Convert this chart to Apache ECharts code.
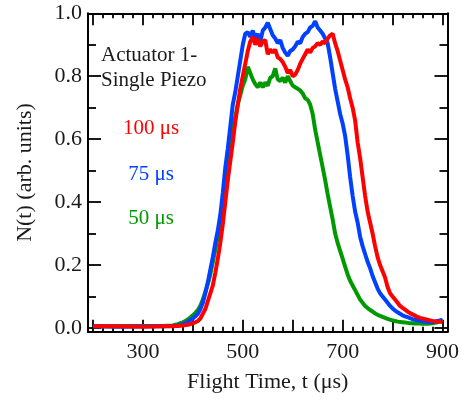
<!DOCTYPE html>
<html><head><meta charset="utf-8">
<script src="https://cdn.jsdelivr.net/npm/echarts@6/dist/echarts.min.js"></script>
<style>html,body{margin:0;padding:0;background:#fff}#c{width:462px;height:400px}</style>
</head><body><div id="c"></div>
<script>
// Flight time grid (µs)
const times = [200,250,300,340,
 360,365,370,375,380,385,390,395,
 400,405,410,415,420,425,430,435,440,445,450,455,460,465,470,475,480,485,490,495,
 500,505,510,515,520,525,530,535,540,545,550,555,560,565,570,575,580,585,590,595,
 600,605,610,615,620,625,630,635,640,645,650,655,660,665,670,675,680,685,690,695,
 700,705,710,715,720,725,730,735,740,745,750,755,760,765,770,775,780,785,790,795,
 800,805,810,815,820,825,830,835,840,845,850,855,860,865,870,875,880,885,890,895,
 900];
// N(t) for 100 µs (red)
const n100 = [0.005,0.005,0.004,0.005,
 0.005,0.006,0.006,0.007,0.008,0.009,0.010,0.012,
 0.015,0.018,0.022,0.030,0.045,0.060,0.085,0.110,0.135,0.175,0.220,0.270,0.330,0.400,0.470,0.530,0.590,0.655,0.710,0.760,
 0.800,0.840,0.880,0.910,0.925,0.900,0.920,0.895,0.910,0.915,0.870,0.885,0.875,0.885,0.860,0.855,0.845,0.830,0.810,0.820,
 0.800,0.805,0.820,0.840,0.855,0.870,0.885,0.875,0.890,0.895,0.905,0.900,0.910,0.905,0.920,0.930,0.935,0.905,0.880,0.850,
 0.820,0.790,0.765,0.730,0.700,0.660,0.590,0.540,0.480,0.420,0.370,0.335,0.300,0.260,0.225,0.200,0.180,0.160,0.130,0.110,
 0.100,0.090,0.080,0.070,0.064,0.058,0.052,0.047,0.043,0.039,0.035,0.032,0.030,0.028,0.026,0.024,0.022,0.021,0.020,0.020,
 0.019];
// N(t) for 75 µs (blue)
const n75 = [0.005,0.004,0.005,0.005,
 0.006,0.007,0.008,0.010,0.012,0.015,0.020,0.025,
 0.030,0.037,0.045,0.060,0.080,0.110,0.145,0.185,0.225,0.270,0.310,0.360,0.430,0.510,0.570,0.640,0.710,0.750,0.800,0.850,
 0.900,0.935,0.940,0.925,0.945,0.920,0.935,0.910,0.945,0.955,0.970,0.950,0.930,0.920,0.905,0.915,0.890,0.875,0.865,0.880,
 0.885,0.895,0.910,0.905,0.925,0.935,0.940,0.955,0.960,0.975,0.955,0.945,0.935,0.920,0.905,0.860,0.810,0.760,0.720,0.680,
 0.650,0.610,0.550,0.480,0.420,0.370,0.335,0.290,0.260,0.235,0.210,0.190,0.165,0.145,0.125,0.110,0.100,0.090,0.080,0.070,
 0.062,0.055,0.050,0.045,0.040,0.037,0.034,0.031,0.028,0.026,0.024,0.022,0.021,0.020,0.019,0.019,0.018,0.020,0.022,0.024,
 0.025];
// N(t) for 50 µs (green)
const n50 = [0.006,0.005,0.006,0.006,
 0.008,0.010,0.012,0.015,0.018,0.022,0.027,0.033,
 0.040,0.048,0.057,0.070,0.090,0.115,0.140,0.170,0.210,0.250,0.290,0.340,0.400,0.470,0.540,0.600,0.640,0.670,0.710,0.740,
 0.770,0.790,0.830,0.810,0.790,0.775,0.765,0.780,0.765,0.780,0.770,0.795,0.800,0.825,0.790,0.785,0.795,0.780,0.800,0.785,
 0.770,0.765,0.760,0.755,0.745,0.730,0.725,0.710,0.680,0.630,0.590,0.550,0.510,0.470,0.425,0.385,0.345,0.300,0.270,0.245,
 0.220,0.195,0.170,0.150,0.135,0.120,0.105,0.090,0.080,0.070,0.063,0.057,0.052,0.046,0.042,0.038,0.035,0.032,0.029,0.026,
 0.024,0.022,0.020,0.019,0.018,0.017,0.016,0.015,0.015,0.014,0.014,0.014,0.013,0.013,0.013,0.014,0.015,0.016,0.018,0.022,
 0.026];

const xMajorTicks = [200,300,400,500,600,700,800,900];
const xLabelTicks = [300,500,700,900];
const xMinorTicks = [220,240,260,280,320,340,360,380,420,440,460,480,520,540,560,580,620,640,660,680,720,740,760,780,820,840,860,880];
const yMajorTicks = [0,0.2,0.4,0.6,0.8,1.0];
const yMinorTicks = [0.1,0.3,0.5,0.7,0.9];

const FONT = 'Liberation Serif';
const INK = '#1a1a1a';
const X_MIN = 190, X_MAX = 910, Y_MIN = -0.012, Y_MAX = 1.0;

function xAx(pos, ticks, len, labels, line, extra) {
  return Object.assign({
    type: 'value', position: pos, min: X_MIN, max: X_MAX,
    axisLine: { show: line, onZero: false, lineStyle: { color: '#000', width: 2 } },
    axisTick: { show: true, inside: true, length: len, customValues: ticks, lineStyle: { color: '#000', width: 1.8 } },
    axisLabel: labels ? { show: true, customValues: labels, fontFamily: FONT, fontSize: 22, color: INK, margin: 10 } : { show: false },
    splitLine: { show: false }
  }, extra || {});
}
function yAx(pos, ticks, len, labels, line, extra) {
  return Object.assign({
    type: 'value', position: pos, min: Y_MIN, max: Y_MAX,
    axisLine: { show: line, onZero: false, lineStyle: { color: '#000', width: 2 } },
    axisTick: { show: true, inside: true, length: len, customValues: ticks, lineStyle: { color: '#000', width: 1.8 } },
    axisLabel: labels ? { show: true, customValues: labels, fontFamily: FONT, fontSize: 22, color: INK, margin: 6,
      formatter: v => Number(v).toFixed(1) } : { show: false },
    splitLine: { show: false }
  }, extra || {});
}

const chart = echarts.init(document.getElementById('c'), null, { renderer: 'canvas' });
chart.setOption({
  animation: false,
  backgroundColor: '#fff',
  grid: { left: 88, right: 12.7, top: 13.3, bottom: 68.3 },
  xAxis: [
    xAx('bottom', xMajorTicks, 12, xLabelTicks, true, {
      name: 'Flight Time, t (\u03bcs)', nameLocation: 'middle', nameGap: 40,
      nameTextStyle: { fontFamily: FONT, fontSize: 22, color: INK } }),
    xAx('bottom', xMinorTicks, 5, null, false),
    xAx('top', xMajorTicks, 12, null, true),
    xAx('top', xMinorTicks, 5, null, false)
  ],
  yAxis: [
    yAx('left', yMajorTicks, 13, yMajorTicks, true, {
      name: 'N(t) (arb. units)', nameLocation: 'middle', nameGap: 52,
      nameTextStyle: { fontFamily: FONT, fontSize: 22, color: INK } }),
    yAx('left', yMinorTicks, 8, null, false),
    yAx('right', yMajorTicks, 13, null, true),
    yAx('right', yMinorTicks, 8, null, false)
  ],
  series: [
    { name: '50 \u03bcs', type: 'line', showSymbol: false, symbol: 'none', data: times.map((t, i) => [t, n50[i]]),
      lineStyle: { color: '#009a00', width: 4 }, z: 2 },
    { name: '75 \u03bcs', type: 'line', showSymbol: false, symbol: 'none', data: times.map((t, i) => [t, n75[i]]),
      lineStyle: { color: '#0040ff', width: 4 }, z: 3 },
    { name: '100 \u03bcs', type: 'line', showSymbol: false, symbol: 'none', data: times.map((t, i) => [t, n100[i]]),
      lineStyle: { color: '#ff0000', width: 4 }, z: 4 }
  ],
  graphic: [
    { type: 'text', z: 10, style: { x: 101, y: 43, text: 'Actuator 1-\nSingle Piezo', fontFamily: FONT, fontSize: 21, lineHeight: 25, fill: INK } },
    { type: 'text', z: 10, style: { x: 151, y: 128, text: '100 \u03bcs', align: 'center', verticalAlign: 'middle', fontFamily: FONT, fontSize: 21, fill: '#ff0000' } },
    { type: 'text', z: 10, style: { x: 151, y: 174, text: '75 \u03bcs', align: 'center', verticalAlign: 'middle', fontFamily: FONT, fontSize: 21, fill: '#0040ff' } },
    { type: 'text', z: 10, style: { x: 151, y: 218, text: '50 \u03bcs', align: 'center', verticalAlign: 'middle', fontFamily: FONT, fontSize: 21, fill: '#009a00' } }
  ]
});
</script>
</body></html>
